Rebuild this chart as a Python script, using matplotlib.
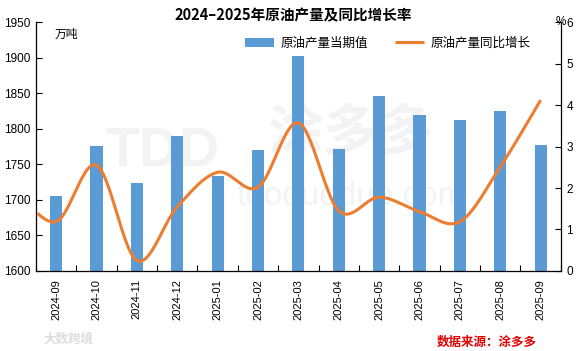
import numpy as np
import matplotlib
matplotlib.use("Agg")
import matplotlib.pyplot as plt

plt.rcParams['font.family'] = ['Liberation Sans', 'Noto Sans CJK SC', 'DejaVu Sans']

# data
months = ['2024-09', '2024-10', '2024-11', '2024-12', '2025-01', '2025-02', '2025-03',
          '2025-04', '2025-05', '2025-06', '2025-07', '2025-08', '2025-09']
output = [1706, 1776, 1724, 1790, 1733, 1770, 1902, 1772, 1846, 1819, 1812, 1825, 1777]
yoy = [1.19, 2.55, 0.25, 1.55, 2.38, 2.02, 3.57, 1.45, 1.78, 1.43, 1.19, 2.51, 4.12]
yoy_prev = 1.95  # 2024-08, only its curve segment shows at the left edge

blue = '#5B9BD5'
orange = '#ED7D31'
cjk = ['Noto Sans CJK SC', 'DejaVu Sans']


def smooth(xs, ys, n=30):
    # catmull-rom style smoothing, similar to excel "smoothed line"
    xs = np.asarray(xs, float)
    ys = np.asarray(ys, float)
    px = np.concatenate([[xs[0]], xs, [xs[-1]]])
    py = np.concatenate([[ys[0]], ys, [ys[-1]]])
    outx, outy = [], []
    for i in range(1, len(px) - 2):
        t = np.linspace(0, 1, n)
        p0, p1, p2, p3 = py[i - 1], py[i], py[i + 1], py[i + 2]
        q0, q1, q2, q3 = px[i - 1], px[i], px[i + 1], px[i + 2]
        c1y = p1 + (p2 - p0) / 6
        c2y = p2 - (p3 - p1) / 6
        c1x = q1 + (q2 - q0) / 6
        c2x = q2 - (q3 - q1) / 6
        by = (1 - t) ** 3 * p1 + 3 * (1 - t) ** 2 * t * c1y + 3 * (1 - t) * t ** 2 * c2y + t ** 3 * p2
        bx = (1 - t) ** 3 * q1 + 3 * (1 - t) ** 2 * t * c1x + 3 * (1 - t) * t ** 2 * c2x + t ** 3 * q2
        outx.extend(bx)
        outy.extend(by)
    return np.array(outx), np.array(outy)


fig = plt.figure(figsize=(5.83, 3.51), dpi=100)
ax = fig.add_axes([0.0617, 0.228, 0.9003, 0.709])
x = np.arange(len(months))

# faint watermark, kept under the bars
ax.text(0.24, 0.48, 'TDD', transform=ax.transAxes, fontsize=40, color='#f3f3f3',
        ha='center', va='center', fontweight='bold', zorder=0.5)
ax.text(0.6, 0.55, '涂多多', transform=ax.transAxes, fontsize=40, color='#f3f3f3',
        ha='center', va='center', family=cjk, fontweight='bold', zorder=0.5)
ax.text(0.6, 0.3, 'tooduoduo.com', transform=ax.transAxes, fontsize=24, color='#f3f3f3',
        ha='center', va='center', zorder=0.5)

bars = ax.bar(x, output, width=0.3, color=blue, label='原油产量当期值', zorder=2)
ax.set_ylim(1600, 1950)
ax.set_xlim(-0.5, len(months) - 0.5)
ax.set_yticks(range(1600, 1951, 50))
ax.set_xticks(x)
ax.set_xticklabels(months, rotation=90)
ax.set_xticks(np.arange(-0.5, len(months), 1), minor=True)
ax.tick_params(axis='x', which='major', length=0, labelsize=8, pad=6)
ax.tick_params(axis='x', which='minor', direction='in', length=4, width=0.8)
ax.tick_params(axis='y', direction='in', length=4, width=0.8, labelsize=8.5, pad=4)
for s in ['top', 'right']:
    ax.spines[s].set_visible(False)
for s in ['left', 'bottom']:
    ax.spines[s].set_linewidth(0.9)

ax2 = ax.twinx()
ax2.set_ylim(0, 6)
ax2.set_yticks(range(0, 7))
ax2.tick_params(axis='y', direction='in', length=4, width=0.8, labelsize=8.5, pad=4)
for s in ['top', 'left', 'bottom']:
    ax2.spines[s].set_visible(False)
ax2.spines['right'].set_linewidth(0.9)

sx, sy = smooth(np.concatenate([[-1], x]), [yoy_prev] + yoy)
keep = sx >= -0.5
line, = ax2.plot(sx[keep], sy[keep], color=orange, lw=2.2, label='原油产量同比增长',
                 solid_capstyle='butt', zorder=3)

ax.text(0.035, 0.975, '万吨', transform=ax.transAxes, fontsize=8.5, family=cjk,
        va='top', ha='left')
ax2.text(1.0, 1.0, '%', transform=ax2.transAxes, fontsize=8.5, va='center', ha='center')

fig.text(0.503, 0.957, '2024–2025年原油产量及同比增长率', ha='center', va='center',
         fontsize=10.5, fontweight='bold', family=cjk)

leg = fig.legend([bars, line], ['原油产量当期值', '原油产量同比增长'], loc='center',
                 bbox_to_anchor=(0.665, 0.877), ncol=2, frameon=False,
                 prop={'family': cjk, 'size': 9}, handlelength=2.3, columnspacing=2.2,
                 handletextpad=0.5)

fig.text(0.75, 0.025, '数据来源：涂多多', color='#e00000', fontsize=9, family=cjk,
         fontweight='bold', ha='left', va='center')
fig.text(0.075, 0.035, '大数跨境', color='#dddddd', fontsize=9, family=cjk,
         fontweight='bold', ha='left', va='center')

fig.savefig('out.png', dpi=100)
